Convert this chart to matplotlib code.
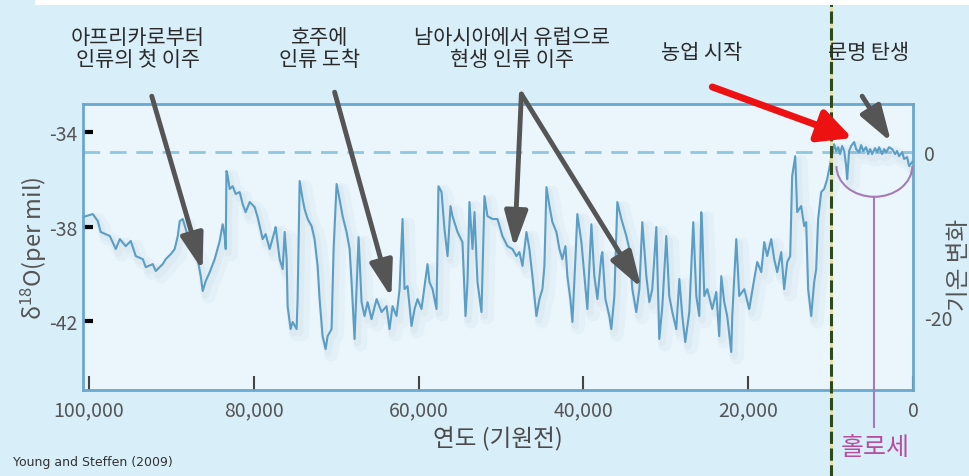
import matplotlib
matplotlib.use('Agg')
import matplotlib.pyplot as plt
import matplotlib.patheffects as pe
from matplotlib.patches import Arc, Rectangle
from matplotlib.ticker import FixedLocator

plt.rcParams['font.family'] = ['Noto Sans CJK KR', 'DejaVu Sans']
plt.rcParams['mathtext.default'] = 'regular'

# GISP2 산소동위원소 기록 (천년 전, per mil)
age_ka = [100.73, 99.52, 98.91, 98.55, 97.45, 96.73, 96.24, 95.52, 94.91, 94.30,
          93.45, 93.09, 92.24, 91.88, 91.03, 90.67, 90.06, 89.58, 89.21, 88.97,
          88.61, 88.24, 87.76, 87.39, 86.79, 86.42, 86.18, 85.82, 85.33, 84.73,
          84.12, 83.76, 83.52, 83.39, 83.30, 83.15, 82.91, 82.55, 82.18, 81.70,
          81.33, 80.97, 80.48, 79.88, 79.52, 78.91, 78.55, 78.06, 77.45, 77.33,
          76.85, 76.48, 76.24, 76.00, 75.88, 75.52, 75.27, 74.79, 74.67, 74.42,
          74.06, 73.82, 73.45, 72.97, 72.61, 72.24, 72.00, 71.64, 71.27, 71.03,
          70.55, 70.30, 69.94, 69.58, 69.21, 68.73, 68.36, 68.12, 67.76, 67.52,
          67.27, 66.91, 66.55, 66.18, 65.70, 65.09, 64.48, 63.88, 63.52, 63.15,
          62.67, 62.30, 61.94, 61.70, 61.33, 60.85, 60.48, 60.12, 59.64, 59.27,
          58.91, 58.67, 58.30, 57.82, 57.58, 57.21, 56.85, 56.48, 56.12, 55.88,
          55.27, 54.67, 54.30, 54.06, 53.82, 53.45, 53.21, 52.85, 52.36, 52.00,
          51.64, 51.03, 50.42, 49.82, 49.21, 48.61, 48.12, 47.76, 47.39, 46.91,
          46.55, 46.18, 45.70, 45.33, 44.97, 44.73, 44.48, 44.12, 43.76, 43.27,
          42.91, 42.55, 42.18, 41.94, 41.58, 41.33, 40.97, 40.73, 40.24, 39.88,
          39.52, 39.03, 38.67, 38.30, 37.82, 37.70, 37.33, 36.85, 36.61, 36.24,
          35.88, 35.39, 34.79, 34.42, 34.06, 33.58, 33.21, 32.85, 32.36, 32.00,
          31.64, 31.15, 30.79, 30.42, 29.94, 29.58, 29.21, 28.73, 28.36, 28.00,
          27.64, 27.15, 26.67, 26.30, 25.94, 25.70, 25.58, 25.33, 24.97, 24.36,
          23.88, 23.52, 23.27, 22.91, 22.55, 22.06, 21.94, 21.45, 21.09, 20.48,
          19.88, 19.27, 18.91, 18.42, 18.06, 17.70, 17.21, 16.85, 16.48, 16.00,
          15.64, 15.27, 14.91, 14.67, 14.30, 14.06, 13.58, 13.21, 12.97, 12.73,
          12.36, 12.00, 11.76, 11.52, 11.15, 10.79, 10.42, 9.94, 9.58, 9.33,
          9.09, 8.85, 8.61, 8.36, 8.12, 8.00, 7.76, 7.52, 7.15, 6.91,
          6.55, 6.30, 6.06, 5.70, 5.45, 5.21, 4.97, 4.61, 4.36, 4.12,
          3.76, 3.52, 3.27, 2.91, 2.55, 2.18, 1.94, 1.70, 1.33, 1.09,
          0.73, 0.48, 0.12]
d18o = [-37.60, -37.47, -37.77, -38.23, -38.40, -38.95, -38.53, -38.83, -38.61, -39.25,
        -39.38, -39.72, -39.59, -39.88, -39.59, -39.38, -39.17, -38.95, -38.40, -37.77,
        -37.68, -38.11, -38.66, -38.95, -39.38, -40.10, -40.73, -40.31, -39.93, -39.38,
        -38.61, -37.90, -38.40, -38.95, -35.65, -35.86, -36.41, -36.29, -36.62, -36.54,
        -37.05, -37.39, -36.96, -37.18, -37.60, -38.53, -38.32, -38.95, -38.19, -38.02,
        -39.38, -39.80, -38.23, -39.38, -41.37, -42.34, -42.04, -42.34, -41.07, -36.07,
        -36.84, -37.26, -37.68, -37.98, -38.53, -39.67, -41.07, -42.64, -43.19, -42.64,
        -42.34, -38.95, -36.20, -36.84, -37.56, -38.23, -38.95, -40.35, -42.76, -40.65,
        -38.45, -41.20, -41.79, -41.20, -41.92, -41.07, -41.62, -41.37, -42.34, -41.37,
        -41.79, -40.65, -37.68, -40.65, -40.52, -42.21, -41.49, -41.07, -41.49, -40.52,
        -39.59, -40.35, -40.65, -41.49, -36.29, -36.54, -38.11, -39.25, -37.13, -37.56,
        -38.23, -38.66, -41.79, -40.35, -36.96, -38.95, -37.39, -40.35, -41.62, -36.71,
        -37.56, -37.68, -37.68, -38.40, -38.83, -38.95, -39.25, -39.08, -39.67, -38.23,
        -38.95, -40.10, -41.79, -41.07, -40.65, -39.67, -36.33, -37.13, -37.81, -38.23,
        -38.95, -39.38, -38.83, -40.10, -41.07, -42.04, -39.38, -37.47, -38.66, -40.10,
        -41.49, -37.90, -40.10, -41.07, -39.25, -39.08, -41.07, -41.79, -42.34, -40.94,
        -36.96, -37.68, -38.40, -38.95, -40.65, -41.62, -40.65, -37.81, -40.10, -41.20,
        -40.65, -38.02, -42.76, -41.37, -38.40, -40.94, -41.62, -42.34, -40.22, -41.79,
        -42.89, -41.62, -37.81, -40.94, -41.79, -37.39, -38.11, -40.94, -40.65, -41.49,
        -40.77, -42.64, -40.10, -41.20, -41.79, -43.31, -41.79, -38.53, -40.94, -40.65,
        -41.49, -40.22, -39.50, -39.93, -38.66, -39.25, -38.53, -39.38, -39.93, -39.08,
        -40.65, -39.50, -39.25, -35.86, -35.02, -37.39, -37.13, -37.98, -37.81, -40.65,
        -41.79, -40.35, -39.80, -37.68, -36.54, -36.41, -35.99, -35.14, -34.51, -34.80,
        -34.64, -34.93, -34.59, -34.80, -35.44, -35.99, -34.80, -34.59, -34.42, -34.72,
        -34.85, -34.55, -34.80, -34.64, -34.93, -34.72, -34.93, -34.68, -34.85, -34.64,
        -34.93, -34.72, -34.85, -34.64, -34.72, -34.93, -34.80, -35.02, -34.85, -35.14,
        -35.06, -35.44, -35.27]

x_ticks = [100, 80, 60, 40, 20, 0]
x_tick_labels = ['100,000', '80,000', '60,000', '40,000', '20,000', '0']
y_ticks = [-34, -38, -42]
temp_ticks = [0, -20]
holocene_start = 10.0
present_level = -34.85

BG = '#d8eef9'
INNER = '#eaf6fc'
SPINE = '#6aa8cf'
LINE = '#5a9ec5'
GREY_TXT = '#555555'
ARROW = '#555555'

fig = plt.figure(figsize=(9.69, 4.77), dpi=100, facecolor=BG)
ax = fig.add_axes([0.0857, 0.1803, 0.8566, 0.5996], facecolor=INNER)

# 윗부분 흰 띠
fig.patches.append(Rectangle((0.036, 0.987), 0.964, 0.013, transform=fig.transFigure,
                             facecolor='white', edgecolor='none', zorder=0))

ax.axhline(present_level, color='#8fc6e2', lw=2, ls=(0, (6, 3.5)), zorder=1)

ax.plot(age_ka, d18o, color=LINE, lw=1.5, zorder=3,
        path_effects=[pe.SimpleLineShadow(offset=(4, -4), shadow_color='#8090a0', alpha=0.05, linewidth=10),
                      pe.SimpleLineShadow(offset=(2, -3), shadow_color='#8090a0', alpha=0.06, linewidth=5),
                      pe.Normal()])

ax.set_xlim(100.7, 0)
ax.set_ylim(-44.92, -32.81)

ax.xaxis.set_major_locator(FixedLocator(x_ticks))
ax.set_xticklabels(x_tick_labels)
ax.tick_params(axis='x', direction='in', length=10, width=1.5, color='#444444',
               labelsize=14, labelcolor=GREY_TXT, pad=7)
ax.set_yticks(y_ticks)
ax.set_yticklabels([str(v) for v in y_ticks])
ax.tick_params(axis='y', direction='in', length=7, width=3, color='black',
               right=True, labelsize=14, labelcolor=GREY_TXT, pad=4)
for s in ax.spines.values():
    s.set_color(SPINE)
    s.set_linewidth(2)

ax.set_xlabel('연도 (기원전)', fontsize=17, color='#4a4a4a', labelpad=4)
ax.set_ylabel('δ$^{18}$O(per mil)', fontsize=17, color=GREY_TXT, labelpad=0)

# 오른쪽 기온 변화 축
ax2 = ax.twinx()
ax2.set_ylim(-28.81, 5.84)
ax2.set_yticks(temp_ticks)
ax2.set_yticklabels([str(v) for v in temp_ticks])
ax2.tick_params(axis='y', length=0, labelsize=14, labelcolor=GREY_TXT, pad=8)
for s in ax2.spines.values():
    s.set_visible(False)
fig.text(0.99, 0.445, '기온 변화', rotation=90, fontsize=17, color=GREY_TXT,
         ha='center', va='center')

# 홀로세 시작 점선
ax.plot([holocene_start, holocene_start], [-1, 2], transform=ax.get_xaxis_transform(),
        color='#e4e0a0', lw=2, clip_on=False, zorder=5)
ax.plot([holocene_start, holocene_start], [-1, 2], transform=ax.get_xaxis_transform(),
        color='#2d4a18', lw=2.2, ls=(0, (4, 1.5)), clip_on=False, zorder=6)

# 홀로세 괄호
ax.add_patch(Arc((4.7, -35.44), 9.2, 2.6, theta1=180, theta2=360,
                 color='#a67bb6', lw=1.5, zorder=4))
ax.plot([4.7, 4.7], [-36.74, -46.5], color='#a67bb6', lw=1.5, clip_on=False, zorder=4)
fig.text(875 / 969, 1 - 448 / 477, '홀로세', fontsize=18, color='#b64f9f',
         ha='center', va='center')

# 주석 화살표
arrows = [((86.2, -39.85), (92.36, -32.48), ARROW),
          ((63.3, -41.0), (70.18, -32.31), ARROW),
          ((48.36, -38.9), (47.52, -32.39), ARROW),
          ((32.97, -40.6), (47.52, -32.39), ARROW),
          ((7.39, -34.25), (24.36, -32.09), '#ee1111'),
          ((2.67, -34.42), (6.18, -32.48), ARROW)]
for tip, start, col in arrows:
    if col == ARROW:
        lw, style = 3.5, '-|>,head_length=1.1,head_width=0.35'
    else:
        lw, style = 5, '-|>,head_length=1.0,head_width=0.5'
    ax.annotate('', xy=tip, xytext=start, annotation_clip=False,
                arrowprops=dict(arrowstyle=style, mutation_scale=20, color=col, lw=lw,
                                shrinkA=0, shrinkB=0), zorder=7)

notes = [(138, '아프리카로부터\n인류의 첫 이주'),
         (320, '호주에\n인류 도착'),
         (512, '남아시아에서 유럽으로\n현생 인류 이주')]
for x, t in notes:
    fig.text(x / 969, 1 - 49 / 477, t, fontsize=15, color='#2a2a2a',
             ha='center', va='center', linespacing=1.0)
fig.text(702 / 969, 1 - 53 / 477, '농업 시작', fontsize=15, color='#2a2a2a',
         ha='center', va='center')
fig.text(869 / 969, 1 - 53 / 477, '문명 탄생', fontsize=15, color='#2a2a2a',
         ha='center', va='center')

fig.text(13 / 969, 1 - 463 / 477, 'Young and Steffen (2009)', fontsize=9,
         family=['Liberation Sans Narrow', 'DejaVu Sans'], color='#333333',
         ha='left', va='center')

fig.savefig('out.png', dpi=100, facecolor=BG)
